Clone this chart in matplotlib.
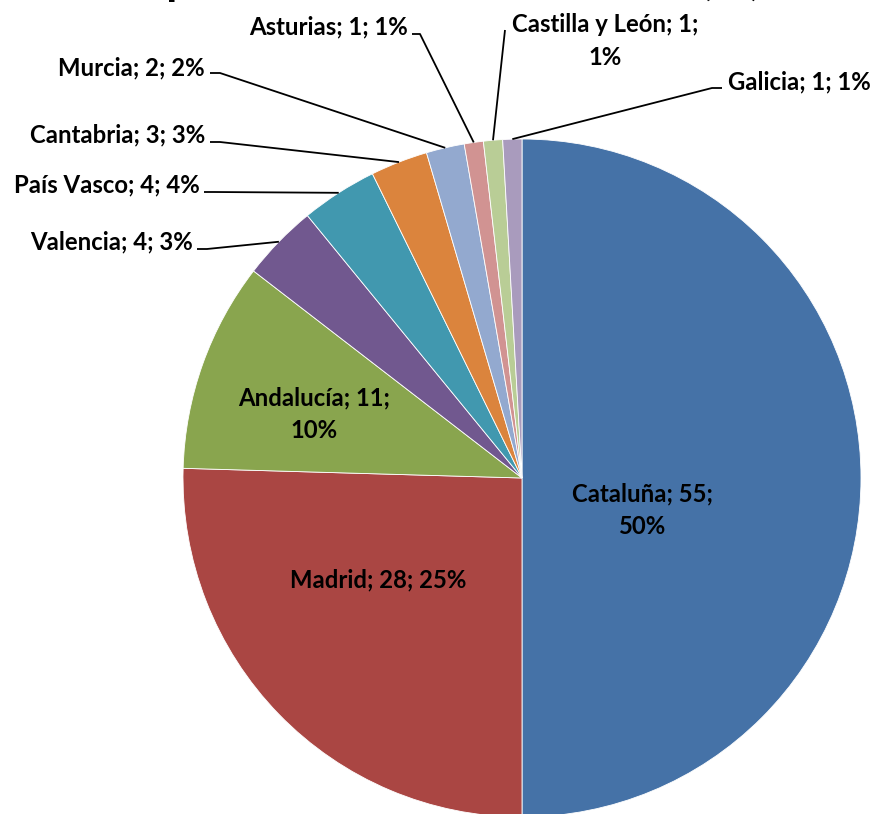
import matplotlib
matplotlib.use("Agg")
import matplotlib.pyplot as plt
import numpy as np

# ---- data ----
regions = ["Cataluña", "Madrid", "Andalucía", "Valencia", "País Vasco",
           "Cantabria", "Murcia", "Asturias", "Castilla y León", "Galicia"]
values = [55, 28, 11, 4, 4, 3, 2, 1, 1, 1]
pct_labels = ["50%", "25%", "10%", "3%", "4%", "3%", "2%", "1%", "1%", "1%"]
colors = ["#4572A7", "#AA4643", "#89A54E", "#71588F", "#4198AF",
          "#DB843D", "#93A9CF", "#D19392", "#B9CD96", "#A99BBD"]
title_text = "Empresas en cada comunidad (%)"

W, H = 880, 814
fig = plt.figure(figsize=(W / 100, H / 100), dpi=100)
ax = fig.add_axes([0, 0, 1, 1])

def Y(y_img):
    return H - y_img

cx, cy, R = 522, Y(478), 339
ax.pie(values, colors=colors, startangle=90, counterclock=False,
       center=(cx, cy), radius=R, frame=True,
       wedgeprops=dict(linewidth=0.6, edgecolor="white"))
ax.set_xlim(0, W)
ax.set_ylim(0, H)
ax.set_aspect("equal")
ax.axis("off")

FONT = "Lato"
fs = 17.2

texts = [f"{r}; {v}; {p}" for r, v, p in zip(regions, values, pct_labels)]
for i in (0, 2, 8):
    texts[i] = f"{regions[i]}; {values[i]};\n{pct_labels[i]}"

# layout: (x, y, ha) in image pixel coords
layout = {
    0: (642, 510, "center"),
    1: (378, 580, "center"),
    2: (314, 414, "center"),
    3: (193, 242, "right"),
    4: (200, 185, "right"),
    5: (205, 135, "right"),
    6: (205, 68, "right"),
    7: (408, 27, "right"),
    8: (605, 41, "center"),
    9: (728, 82, "left"),
}
for i, (x, y, ha) in layout.items():
    ax.text(x, Y(y), texts[i], ha=ha, va="center", fontsize=fs,
            fontweight="bold", family=FONT, color="black",
            linespacing=1.5, multialignment="center")

# leader lines to slice arc midpoints
total = sum(values)
cum = np.cumsum([0] + values)
leaders = {
    3: [(197, 249), (207, 249)],
    4: [(204, 192), (214, 192)],
    5: [(210, 142), (220, 142)],
    6: [(210, 73), (220, 73)],
    7: [(412, 34), (420, 34)],
    8: [(505, 30)],
    9: [(722, 88), (712, 88)],
}
for i, pts in leaders.items():
    mid = (cum[i] + cum[i + 1]) / 2 / total * 2 * np.pi
    ex = cx + R * np.sin(mid)
    ey = cy + R * np.cos(mid)
    xs = [p[0] for p in pts] + [ex]
    ys = [Y(p[1]) for p in pts] + [ey]
    ax.plot(xs, ys, color="black", lw=1.3, solid_capstyle="butt")

# title: mostly above the visible area, as in the reference
t = ax.text(103, Y(-6), title_text, ha="left", va="baseline", fontsize=30,
            fontweight="bold", family=FONT, clip_on=False)
fig.canvas.draw()
bb = t.get_window_extent()
t.set_fontsize(30 * (762 - 103) / bb.width)

fig.savefig("out.png", dpi=100)
